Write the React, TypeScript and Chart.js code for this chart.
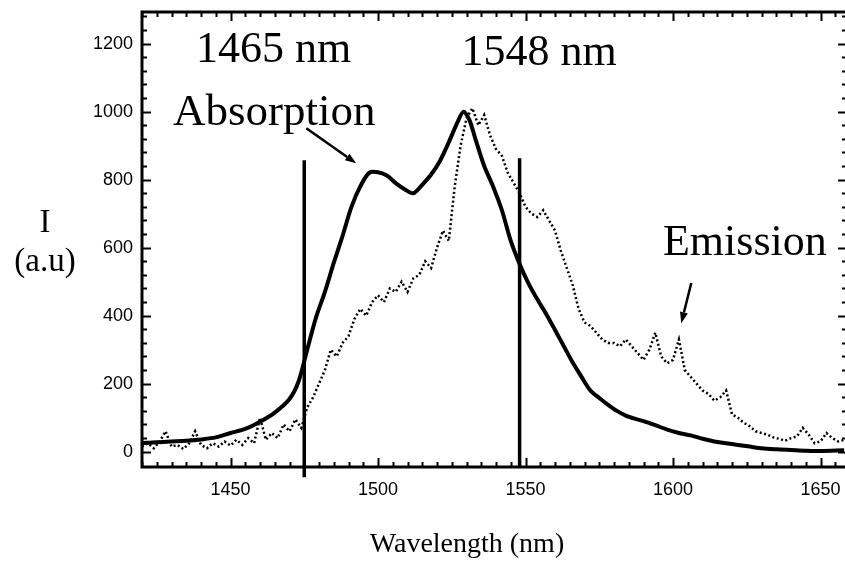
import React, { useEffect, useRef } from "react";
import { Chart, registerables } from "chart.js";

Chart.register(...registerables);

// Absorption (solid) spectrum
const absWavelength = [
  1420, 1425, 1430, 1435, 1440, 1445, 1450, 1455, 1460, 1465, 1470, 1473, 1476, 1479, 1482, 1485, 1488, 1491,
  1494, 1497, 1500, 1503, 1506, 1509, 1512, 1515, 1518, 1521, 1524, 1527, 1529, 1531, 1533, 1536, 1539, 1542,
  1545, 1548, 1551, 1554, 1557, 1560, 1563, 1566, 1569, 1572, 1575, 1578, 1581, 1584, 1587, 1590, 1594, 1598,
  1602, 1606, 1610, 1614, 1618, 1622, 1626, 1630, 1635, 1640, 1645, 1650, 1658,
];
const absIntensity = [
  25, 28, 30, 32, 36, 42, 55, 67, 88, 115, 155, 205, 300, 395, 470, 555, 635, 720,
  780, 820, 822, 812, 790, 772, 760, 785, 815, 855, 910, 970, 1000, 975, 920, 840, 780, 710,
  620, 552, 495, 448, 405, 358, 310, 262, 220, 180, 158, 138, 120, 106, 97, 90, 78, 65,
  55, 48, 38, 30, 25, 20, 15, 10, 7, 5, 3, 2, 4,
];

// Emission (dotted, noisy) spectrum
const emWavelength = [
  1420, 1422, 1424, 1426, 1428, 1430, 1432, 1434, 1436, 1438, 1440, 1442, 1444, 1446, 1448, 1450, 1452, 1454,
  1456, 1458, 1460, 1462, 1464, 1466, 1468, 1470, 1472, 1474, 1476, 1478, 1480, 1482, 1484, 1486, 1488, 1490,
  1492, 1494, 1496, 1498, 1500, 1502, 1504, 1506, 1508, 1510, 1512, 1514, 1516, 1518, 1520, 1522, 1524, 1526,
  1528, 1530, 1532, 1534, 1536, 1538, 1540, 1542, 1544, 1546, 1548, 1550, 1552, 1554, 1556, 1558, 1560, 1562,
  1564, 1566, 1568, 1570, 1572, 1574, 1576, 1578, 1580, 1582, 1584, 1586, 1588, 1590, 1592, 1594, 1596, 1598,
  1600, 1602, 1604, 1606, 1608, 1610, 1612, 1614, 1616, 1618, 1620, 1622, 1624, 1626, 1628, 1630, 1632, 1634,
  1636, 1638, 1640, 1642, 1644, 1646, 1648, 1650, 1652, 1654, 1656, 1658,
];
const emIntensity = [
  15, 25, 10, 30, 60, 15, 20, 8, 25, 60, 20, 10, 25, 15, 30, 18, 35, 20,
  40, 25, 100, 35, 55, 40, 80, 60, 95, 70, 130, 160, 200, 240, 300, 280, 320, 340,
  390, 420, 400, 440, 460, 440, 480, 470, 500, 470, 510, 520, 560, 540, 600, 650, 620, 780,
  900, 980, 1010, 960, 990, 930, 890, 870, 820, 790, 760, 720, 700, 690, 710, 680, 650, 590,
  540, 490, 420, 380, 370, 350, 330, 320, 320, 310, 330, 310, 290, 270, 300, 350, 280, 260,
  270, 330, 240, 220, 200, 180, 170, 150, 160, 180, 110, 100, 85, 75, 60, 55, 50, 42,
  38, 32, 40, 45, 70, 50, 25, 30, 55, 40, 30, 35,
];

// Vertical marker lines [wavelength, bottom, top]
const markerWavelengths = [1475, 1548];
const markerBottoms = [-75, -45];
const markerTops = [857, 863];

// Axis ticks
const xTickValues = [1450, 1500, 1550, 1600, 1650];
const yTickValues = [0, 200, 400, 600, 800, 1000, 1200];
const xMinorStep = 5;
const yMinorStep = 40;
const xMin = 1420;
const xMax = 1658.3;
const yMin = -45;
const yMax = 1293;

// Text annotations (data coordinates)
const annotations = [
  { text: "1465 nm", x: 1438.3, y: 1145, size: 44 },
  { text: "1548 nm", x: 1528.3, y: 1136, size: 44 },
  { text: "Absorption", x: 1430.5, y: 960, size: 45 },
  { text: "Emission", x: 1596.6, y: 578, size: 44 },
];
const arrows = [
  { x1: 1475.7, y1: 951, x2: 1492.6, y2: 848 },
  { x1: 1606.2, y1: 496, x2: 1602.8, y2: 378 },
];

const framePlugin = {
  id: "framePlugin",
  afterDatasetsDraw(chart: any) {
    const { ctx, chartArea } = chart;
    const xs = chart.scales.x;
    const ys = chart.scales.y;
    const { left, right, top, bottom } = chartArea;
    ctx.save();
    ctx.strokeStyle = "#000";
    ctx.fillStyle = "#000";
    // frame (right side falls at the image edge)
    ctx.lineWidth = 3;
    ctx.beginPath();
    ctx.moveTo(right, top);
    ctx.lineTo(left, top);
    ctx.lineTo(left, bottom);
    ctx.lineTo(right, bottom);
    ctx.stroke();
    // x minor/major ticks (bottom & top, inward)
    ctx.lineWidth = 2;
    for (let v = xMin; v <= xMax; v += xMinorStep) {
      const px = Math.round(xs.getPixelForValue(v)) + 0.5;
      const major = xTickValues.includes(v);
      const len = major ? 9 : 5;
      ctx.beginPath();
      ctx.moveTo(px, bottom);
      ctx.lineTo(px, bottom - len);
      ctx.moveTo(px, top);
      ctx.lineTo(px, top + len);
      ctx.stroke();
    }
    for (let v = 0; v <= yMax; v += yMinorStep) {
      const py = Math.round(ys.getPixelForValue(v)) + 0.5;
      const major = yTickValues.includes(v);
      const len = major ? 9 : 5;
      ctx.beginPath();
      ctx.moveTo(left, py);
      ctx.lineTo(left + len, py);
      ctx.moveTo(right, py);
      ctx.lineTo(right - len + 2, py);
      ctx.stroke();
    }
    // annotations
    ctx.textBaseline = "alphabetic";
    ctx.textAlign = "left";
    for (const a of annotations) {
      ctx.font = `${a.size}px "Liberation Serif", "Times New Roman", serif`;
      ctx.fillText(a.text, xs.getPixelForValue(a.x), ys.getPixelForValue(a.y));
    }
    // arrows
    for (const ar of arrows) {
      const x1 = xs.getPixelForValue(ar.x1);
      const y1 = ys.getPixelForValue(ar.y1);
      const x2 = xs.getPixelForValue(ar.x2);
      const y2 = ys.getPixelForValue(ar.y2);
      const ang = Math.atan2(y2 - y1, x2 - x1);
      const hl = 11;
      const hw = 4;
      const bx = x2 - hl * Math.cos(ang);
      const by = y2 - hl * Math.sin(ang);
      ctx.lineWidth = 2.5;
      ctx.beginPath();
      ctx.moveTo(x1, y1);
      ctx.lineTo(bx, by);
      ctx.stroke();
      ctx.beginPath();
      ctx.moveTo(x2, y2);
      ctx.lineTo(bx + hw * Math.sin(ang), by - hw * Math.cos(ang));
      ctx.lineTo(bx - hw * Math.sin(ang), by + hw * Math.cos(ang));
      ctx.closePath();
      ctx.fill();
    }
    // axis titles
    ctx.textAlign = "center";
    ctx.font = `33px "Liberation Serif", "Times New Roman", serif`;
    ctx.fillText("I", 45, 232);
    ctx.fillText("(a.u)", 45, 271);
    ctx.font = `28px "Liberation Serif", "Times New Roman", serif`;
    ctx.fillText("Wavelength (nm)", 467, 552);
    ctx.restore();
  },
};

export default function App() {
  const canvasRef = useRef<HTMLCanvasElement | null>(null);

  useEffect(() => {
    const canvas = canvasRef.current;
    if (!canvas) return;
    const tickFont = { family: '"Liberation Sans", Arial, sans-serif', size: 18 };
    const chart = new Chart(canvas, {
      type: "line",
      data: {
        datasets: [
          {
            label: "Absorption",
            data: absWavelength.map((x, i) => ({ x, y: absIntensity[i] })),
            borderColor: "#000",
            borderWidth: 4,
            pointRadius: 0,
            tension: 0.3,
            fill: false,
          },
          {
            label: "Emission",
            data: emWavelength.map((x, i) => ({ x, y: emIntensity[i] })),
            borderColor: "#000",
            borderWidth: 2.5,
            borderDash: [2, 2.5],
            pointRadius: 0,
            tension: 0,
            fill: false,
          },
          ...markerWavelengths.map((w, i) => ({
            label: `marker${i}`,
            data: [
              { x: w, y: markerBottoms[i] },
              { x: w, y: markerTops[i] },
            ],
            borderColor: "#000",
            borderWidth: 3.5,
            pointRadius: 0,
            clip: false as any,
            fill: false,
          })),
        ],
      },
      options: {
        responsive: false,
        animation: false,
        layout: { padding: { left: 0, top: 12, right: 0, bottom: 0 } },
        plugins: { legend: { display: false }, tooltip: { enabled: false } },
        scales: {
          x: {
            type: "linear",
            min: xMin,
            max: xMax,
            grid: { display: false, drawTicks: false },
            border: { display: false },
            ticks: {
              color: "#000",
              font: tickFont,
              padding: 12,
              maxRotation: 0,
              autoSkip: false,
              callback: (v: any) => String(v),
            },
            afterBuildTicks: (s: any) => {
              s.ticks = xTickValues.map((v) => ({ value: v }));
            },
            afterFit: (s: any) => {
              s.height = 97;
              s.paddingLeft = 0;
              s.paddingRight = 0;
            },
          },
          y: {
            type: "linear",
            min: yMin,
            max: yMax,
            grid: { display: false, drawTicks: false },
            border: { display: false },
            ticks: {
              color: "#000",
              font: tickFont,
              padding: 9,
              autoSkip: false,
              callback: (v: any) => String(v),
            },
            afterBuildTicks: (s: any) => {
              s.ticks = yTickValues.map((v) => ({ value: v }));
            },
            afterFit: (s: any) => {
              s.width = 142;
              s.paddingTop = 0;
              s.paddingBottom = 0;
            },
          },
        },
      } as any,
      plugins: [framePlugin],
    });
    return () => chart.destroy();
  }, []);

  return (
    <div style={{ position: "absolute", left: 0, top: 0, width: 845, height: 564, background: "#fff" }}>
      <canvas ref={canvasRef} width={845} height={564} style={{ display: "block" }} />
    </div>
  );
}
